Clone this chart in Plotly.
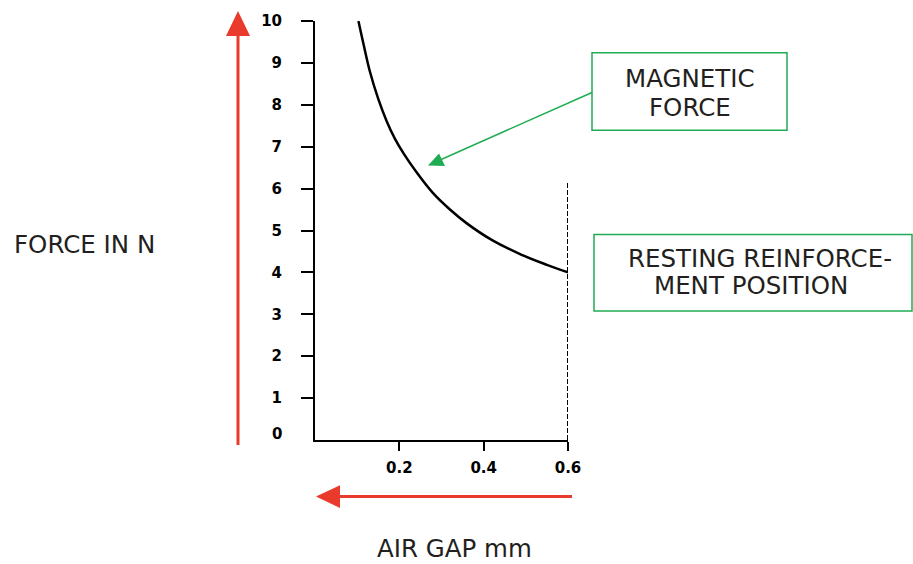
import plotly.graph_objects as go

# ---------------- DATA ----------------
gap_mm = [0.103, 0.115, 0.13, 0.15, 0.17, 0.19, 0.21, 0.24, 0.28, 0.32, 0.36, 0.42, 0.49, 0.55, 0.60]
force_n = [10.0, 9.45, 8.80, 8.14, 7.61, 7.18, 6.84, 6.40, 5.89, 5.50, 5.17, 4.77, 4.42, 4.18, 4.0]

rest_gap = [0.6, 0.6]
rest_force = [0.0, 6.15]

x_ticks = [0.2, 0.4, 0.6]
x_tick_text = ["0.2", "0.4", "0.6"]
y_ticks = [1, 2, 3, 4, 5, 6, 7, 8, 9, 10]
y_tick_text = ["1", "2", "3", "4", "5", "6", "7", "8", "9", "10"]

# ---------------- LAYOUT HELPERS ----------------
W, H = 913, 564
L, R, T, B = 315, 345, 18, 124
PW, PH = W - L - R, H - T - B

RED = "#ea3a2b"
GREEN = "#1fac52"
TXT = "#231f20"
FONT = "DejaVu Sans"
TICKFONT = dict(family="DejaVu Sans", size=15, color="black", weight=700)


def px(x):
    return (x - L) / PW


def py(y):
    return (H - B - y) / PH


fig = go.Figure()

fig.add_trace(go.Scatter(
    x=gap_mm, y=force_n, mode="lines",
    line=dict(color="black", width=2.5, shape="spline", smoothing=1),
    cliponaxis=False, showlegend=False,
))

fig.add_trace(go.Scatter(
    x=rest_gap, y=rest_force, mode="lines",
    line=dict(color="black", width=2, dash="5px,2px"),
    cliponaxis=False, showlegend=False,
))

shapes = []

# red arrows
shapes.append(dict(type="line", xref="paper", yref="paper",
                   x0=px(238), y0=py(445), x1=px(238), y1=py(30),
                   line=dict(color=RED, width=3)))
shapes.append(dict(type="path", xref="paper", yref="paper",
                   path=f"M {px(238)},{py(8)} L {px(226)},{py(33)} L {px(250)},{py(33)} Z",
                   fillcolor=RED, line=dict(width=0)))
shapes.append(dict(type="line", xref="paper", yref="paper",
                   x0=px(572), y0=py(497), x1=px(336), y1=py(497),
                   line=dict(color=RED, width=3)))
shapes.append(dict(type="path", xref="paper", yref="paper",
                   path=f"M {px(316)},{py(497)} L {px(340)},{py(485.5)} L {px(340)},{py(508.5)} Z",
                   fillcolor=RED, line=dict(width=0)))

# green callout boxes
shapes.append(dict(type="rect", xref="paper", yref="paper",
                   x0=px(592), y0=py(50), x1=px(787), y1=py(128),
                   line=dict(color=GREEN, width=1.5)))
shapes.append(dict(type="rect", xref="paper", yref="paper",
                   x0=px(594), y0=py(233), x1=px(912), y1=py(310),
                   line=dict(color=GREEN, width=1.5)))

# green arrow
shapes.append(dict(type="line", xref="paper", yref="paper",
                   x0=px(592), y0=py(90), x1=px(440), y1=py(158),
                   line=dict(color=GREEN, width=1.5)))
shapes.append(dict(type="path", xref="paper", yref="paper",
                   path=f"M {px(428)},{py(163.5)} L {px(439)},{py(151.5)} L {px(445)},{py(164)} Z",
                   fillcolor=GREEN, line=dict(width=0)))

labels = [
    ("FORCE IN N", 84, 243),
    ("AIR GAP mm", 454, 549),
    ("MAGNETIC", 690, 76),
    ("FORCE", 690, 105),
    ("RESTING REINFORCE-", 760, 257),
    ("MENT POSITION", 751, 284),
]
annotations = []
for text, x, y in labels:
    annotations.append(dict(text=text, x=px(x), y=py(y), xref="paper", yref="paper",
                            showarrow=False, xanchor="center", yanchor="middle",
                            font=dict(family=FONT, size=24.5, color=TXT)))

annotations.append(dict(text="0", x=px(284), y=py(434), xref="paper", yref="paper",
                        showarrow=False, xanchor="right", yanchor="middle",
                        font=TICKFONT))

fig.update_layout(
    width=W, height=H, autosize=False,
    margin=dict(l=L, r=R, t=T, b=B),
    paper_bgcolor="white", plot_bgcolor="white",
    shapes=shapes, annotations=annotations,
    showlegend=False,
    xaxis=dict(range=[0, 0.6], tickvals=x_ticks, ticktext=x_tick_text,
               showgrid=False, zeroline=False, showline=True,
               linecolor="black", linewidth=2, ticks="outside",
               ticklen=9, tickwidth=2, tickcolor="black",
               ticklabelstandoff=4, tickfont=TICKFONT),
    yaxis=dict(range=[0, 10], tickvals=y_ticks, ticktext=y_tick_text,
               showgrid=False, zeroline=False, showline=True,
               linecolor="black", linewidth=2, ticks="outside",
               ticklen=12, tickwidth=2, tickcolor="black",
               ticklabelstandoff=16, tickfont=TICKFONT),
)

fig.write_html("out.html", config={"displayModeBar": False},
               post_script="document.body.style.margin='0';")
